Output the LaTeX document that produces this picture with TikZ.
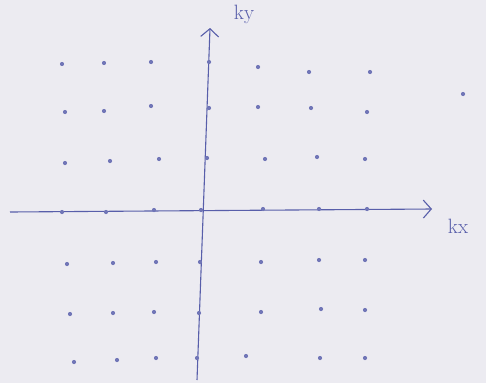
\documentclass[tikz,border=0pt]{standalone}
\usepackage{tikz}
\usetikzlibrary{arrows.meta, positioning}

\definecolor{pen}{RGB}{88,94,170}
\definecolor{paper}{RGB}{236,235,241}

\begin{document}
\begin{tikzpicture}[
  x=1pt, y=-1pt,
  axis/.style={pen, line width=1.1pt, -{Straight Barb[length=8pt, width=18pt]}},
  lattice/.style={circle, fill=pen!85, inner sep=0pt, minimum size=4.2pt},
  label/.style={text=pen, font=\huge}
]
\fill[paper] (0,0) rectangle (486,383);
\useasboundingbox (0,0) rectangle (486,383);
% axes
\coordinate (xl) at (10,212);
\coordinate (xr) at (432,209);
\coordinate (yb) at (197,380);
\coordinate (yt) at (210,28);
\draw[axis] (xl) -- (xr);
\draw[axis] (yb) -- (yt);
\node[label] (kx) at (458,226) {kx};
\node[label] (ky) at (244,14) {ky};
% lattice points
\foreach \px/\py [count=\i] in {
  62/64, 104/63, 151/62, 209/62, 258/67, 309/72, 370/72,
  65/112, 104/111, 151/106, 209/108, 258/107, 311/108, 367/112,
  65/163, 110/161, 159/159, 207/158, 265/159, 317/157, 365/159,
  62/212, 106/212, 154/210, 201/210, 263/209, 319/209, 367/209,
  67/264, 113/263, 156/262, 200/262, 261/262, 319/260, 365/260,
  70/314, 113/313, 154/312, 199/313, 261/312, 321/309, 365/310,
  74/362, 117/360, 156/358, 197/358, 246/356, 320/358, 365/358,
  463/94}
  \node[lattice] (p\i) at (\px,\py) {};
\end{tikzpicture}
\end{document}
